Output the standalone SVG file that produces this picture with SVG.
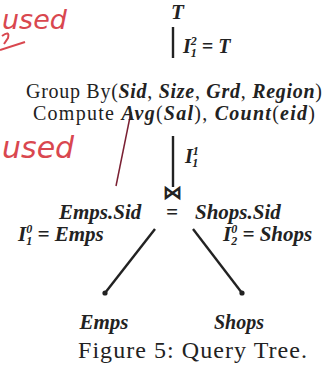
<svg xmlns="http://www.w3.org/2000/svg" width="336" height="370" viewBox="0 0 336 370">
<style>
.t{font-family:"Liberation Serif","DejaVu Serif",serif;fill:#222;font-size:20px}
.m{font-style:italic;font-weight:bold}
.s{font-size:12px}
.f21{font-size:21px}
.e{stroke:#222;stroke-width:2.4;fill:none}
.r{font-family:"DejaVu Sans",sans-serif;font-style:italic;fill:#d9474f}
</style>
<rect width="336" height="370" fill="#fff"/>
<g id="annotations">
<text class="r" x="2" y="29" font-size="27">used</text>
<path d="M0 50 L25 42" stroke="#d9474f" stroke-width="2" fill="none"/>
<path d="M2 36 Q10 30 8 38 L4 44" stroke="#d9474f" stroke-width="2" fill="none"/>
<text class="r" x="2" y="158" font-size="30">used</text>
<path d="M131 112 L116 186" stroke="#7a2033" stroke-width="1.5" fill="none"/>
</g>
<g id="T">
<text class="t m f21" x="171" y="19">T</text>
</g>
<g id="groupby">
<text class="t" x="26" y="98" textLength="296" lengthAdjust="spacing">Group By(<tspan class="m">Sid</tspan>, <tspan class="m">Size</tspan>, <tspan class="m">Grd</tspan>, <tspan class="m">Region</tspan>)</text>
<text class="t" x="33" y="120" textLength="282" lengthAdjust="spacing">Compute <tspan class="m">Avg</tspan>(<tspan class="m">Sal</tspan>), <tspan class="m">Count</tspan>(<tspan class="m">eid</tspan>)</text>
</g>
<g id="join">
<text class="t" x="172" y="199" text-anchor="middle" style="font-size:19px;font-weight:bold">⋈</text>
<text class="t m f21" x="59" y="219">Emps.Sid</text>
<text class="t m f21" x="172" y="219" text-anchor="middle">=</text>
<text class="t m f21" x="195" y="219">Shops.Sid</text>
</g>
<g id="emps">
<circle cx="105" cy="293" r="2.6" fill="#222"/>
<text class="t m f21" x="104" y="329" text-anchor="middle">Emps</text>
</g>
<g id="shops">
<circle cx="242" cy="293" r="2.6" fill="#222"/>
<text class="t m" x="239" y="329" text-anchor="middle">Shops</text>
</g>
<g id="connectors">
<path class="e" d="M173 27 V58"/>
<path class="e" d="M173 136 V187"/>
<path class="e" d="M155 229 L105 293"/>
<path class="e" d="M193 229 L242 293"/>
<text class="t m" x="183" y="53">I<tspan class="s" dy="-8">2</tspan><tspan class="s" dx="-6" dy="12">1</tspan><tspan dy="-4"> = T</tspan></text>
<text class="t m" x="185" y="163">I<tspan class="s" dy="-8">1</tspan><tspan class="s" dx="-6" dy="12">1</tspan></text>
<text class="t m f21" x="18" y="241">I<tspan class="s" dy="-8">0</tspan><tspan class="s" dx="-6" dy="12">1</tspan><tspan dy="-4"> = Emps</tspan></text>
<text class="t m f21" x="223" y="241">I<tspan class="s" dy="-8">0</tspan><tspan class="s" dx="-6" dy="12">2</tspan><tspan dy="-4"> = Shops</tspan></text>
</g>
<g id="caption">
<text class="t" x="78" y="358" textLength="229" lengthAdjust="spacing" style="font-size:24px">Figure 5: Query Tree.</text>
</g>
</svg>
